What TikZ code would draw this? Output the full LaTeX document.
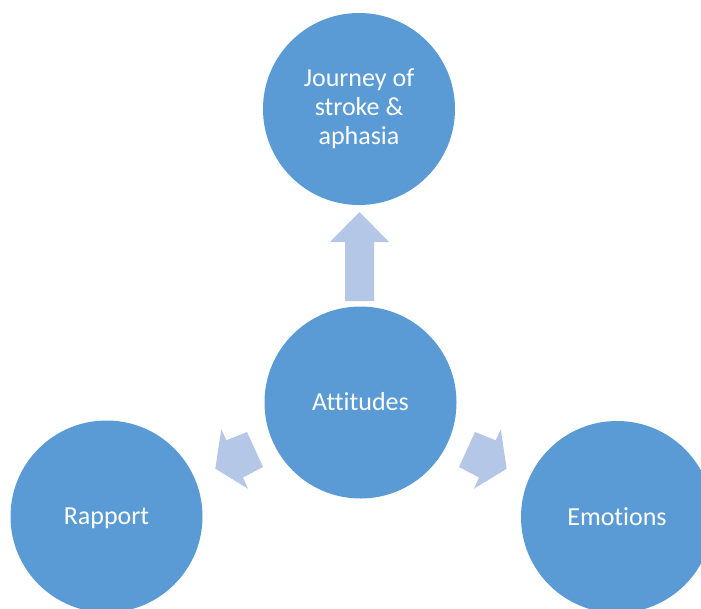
\documentclass[tikz,border=0pt]{standalone}
\usepackage{fontspec}
\setmainfont{Carlito}[Ligatures=CommonOff]
\definecolor{bubbleblue}{HTML}{5B9BD5}
\definecolor{arrowblue}{HTML}{B4C7E7}
\begin{document}
\begin{tikzpicture}[x=1pt,y=-1pt,
  bubble/.style={circle, fill=bubbleblue, minimum size=192pt, inner sep=0pt,
    text=white, align=center, font=\fontsize{26}{29}\selectfont},
  oneline/.style={bubble, text height=18pt, text depth=2pt},
  blockarrow/.style={fill=arrowblue, draw=none}]
\useasboundingbox (0,0) rectangle (701,608);
\clip (0,0) rectangle (701,608);

% circles
\node[bubble] (journey) at (359,109) {Journey of\\stroke \&\\aphasia};
\node[oneline] (attitudes) at (360.5,402.5) {Attitudes};
\node[oneline] (rapport) at (106.5,516.5) {Rapport};
\node[oneline] (emotions) at (617,517) {Emotions};

% block arrows
\fill[blockarrow] (345,301) -- (345,242) -- (330,242) -- (359.5,212)
  -- (389,242) -- (374,242) -- (374,301) -- cycle;
\fill[blockarrow] (247,432) -- (226.3,440.3) -- (221.3,429.3) -- (215.3,468.7)
  -- (248,488.7) -- (243,477.5) -- (263,467) -- cycle;
\fill[blockarrow] (475,432) -- (495.7,440.3) -- (500.7,429.3) -- (506.7,468.7)
  -- (474,488.7) -- (479,477.5) -- (459,467) -- cycle;
\end{tikzpicture}
\end{document}
